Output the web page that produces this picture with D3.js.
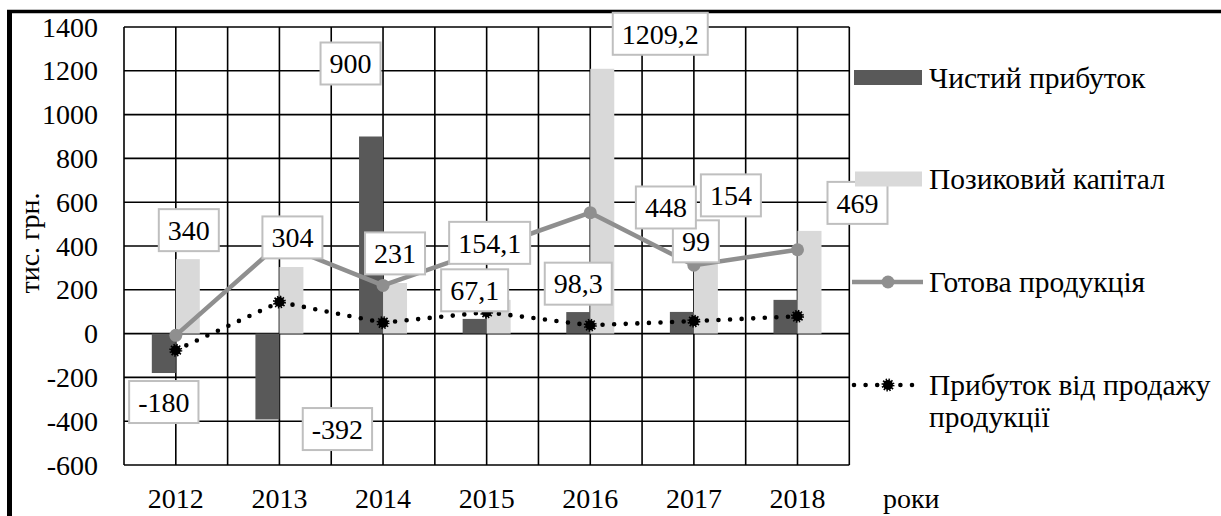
<!DOCTYPE html>
<html>
<head>
<meta charset="utf-8">
<script src="https://cdn.jsdelivr.net/npm/d3@7"></script>
<style>
  html, body { margin: 0; padding: 0; background: #ffffff; }
  svg { display: block; }
</style>
</head>
<body>
<svg id="chart" width="1221" height="516" font-family="Liberation Serif"></svg>
<script>
// ---- data ----
const years = ["2012", "2013", "2014", "2015", "2016", "2017", "2018"];
const netProfit = [-180, -392, 900, 67.1, 98.3, 99, 154];            // Чистий прибуток
const loanCapital = [340, 304, 231, 154.1, 1209.2, 448, 469];        // Позиковий капітал
const finishedGoods = [-8, 410, 220, 385, 552, 312, 383];            // Готова продукція
const salesProfit = [-76, 144, 50, 98, 38, 57, 79];                  // Прибуток від продажу продукції
const yTicks = [-600, -400, -200, 0, 200, 400, 600, 800, 1000, 1200, 1400];
const seriesNames = ["Чистий прибуток", "Позиковий капітал", "Готова продукція", ["Прибуток від продажу", "продукції"]];
const yTitle = "тис. грн.";
const xTitle = "роки";

// ---- layout (label offsets in px from the bar end) ----
const netLabelOffsets = [[0, 29], [70, 9.6], [-20.5, -73], [0, -28.6], [0, -28.4], [14, -70.6], [-54.6, -104.5]];
const loanLabelOffsets = [[1, -29], [1, -29.6], [0, -29.6], [-9, -57], [58, -35], [-40, -28], [48, -28]];

const svg = d3.select("#chart");
const L = 124, R = 849.3, T = 27, B = 465;
const FONT = 28, LFONT = 29.5;
const darkC = "#595959", lightC = "#d9d9d9", grayC = "#8f8f8f";

const x = d3.scaleBand().domain(years).range([L, R]).paddingInner(0).paddingOuter(0);
const y = d3.scaleLinear().domain([-600, 1400]).range([B, T]);
const bw = 24;
const cx = d => x(d) + x.bandwidth() / 2;

function txt(g, size) {
  return g.append("text").attr("font-family", "Liberation Serif").attr("font-size", size || FONT).attr("fill", "#000");
}

// outer frame
svg.append("line").attr("x1", 7).attr("x2", 1221).attr("y1", 11.5).attr("y2", 11.5)
  .attr("stroke", "#000").attr("stroke-width", 3.5);
svg.append("line").attr("x1", 9.5).attr("x2", 9.5).attr("y1", 10).attr("y2", 516)
  .attr("stroke", "#000").attr("stroke-width", 5);

// grid
const grid = svg.append("g");
yTicks.forEach(t => {
  grid.append("line").attr("x1", L).attr("x2", R).attr("y1", y(t)).attr("y2", y(t))
    .attr("stroke", "#000").attr("stroke-width", 1.6);
});
const vx = [];
years.forEach(yr => { vx.push(x(yr)); vx.push(cx(yr)); });
vx.push(R);
vx.forEach(v => {
  grid.append("line").attr("x1", v).attr("x2", v).attr("y1", T).attr("y2", B)
    .attr("stroke", "#000").attr("stroke-width", 1.6);
});

// y axis labels (from the scale)
const yg = svg.append("g");
yg.selectAll("text").data(yTicks).join(enter => txt(enter))
  .attr("x", 98).attr("y", d => y(d)).attr("dy", "0.34em").attr("text-anchor", "end").text(d => String(d));

// x axis labels
const xg = svg.append("g");
xg.selectAll("text").data(years).join(enter => txt(enter))
  .attr("x", d => cx(d)).attr("y", 508).attr("text-anchor", "middle").text(d => d);

// titles
txt(svg).attr("transform", "translate(38.5,243) rotate(-90)").attr("text-anchor", "middle").text(yTitle);
txt(svg).attr("x", 883).attr("y", 508).text(xTitle);

// bars
svg.append("g").selectAll("rect").data(netProfit).join("rect")
  .attr("x", (d, i) => cx(years[i]) - bw).attr("width", bw)
  .attr("y", d => y(Math.max(0, d))).attr("height", d => Math.abs(y(d) - y(0)))
  .attr("fill", darkC);
svg.append("g").selectAll("rect").data(loanCapital).join("rect")
  .attr("x", (d, i) => cx(years[i])).attr("width", bw)
  .attr("y", d => y(Math.max(0, d))).attr("height", d => Math.abs(y(d) - y(0)))
  .attr("fill", lightC);

// gray line
const line = d3.line().x((d, i) => cx(years[i])).y(d => y(d));
svg.append("path").datum(finishedGoods).attr("d", line)
  .attr("fill", "none").attr("stroke", grayC).attr("stroke-width", 4.5).attr("stroke-linejoin", "round");
svg.append("g").selectAll("circle").data(finishedGoods).join("circle")
  .attr("cx", (d, i) => cx(years[i])).attr("cy", d => y(d)).attr("r", 6.5).attr("fill", grayC);

// dotted line
function spikyMarker(g, px, py) {
  g.append("circle").attr("cx", px).attr("cy", py).attr("r", 5)
    .attr("fill", "#000").attr("stroke", "#000").attr("stroke-width", 3)
    .attr("stroke-dasharray", "1.3 1.3");
}
svg.append("path").datum(salesProfit).attr("d", line)
  .attr("fill", "none").attr("stroke", "#000").attr("stroke-width", 4.6)
  .attr("stroke-linecap", "round").attr("stroke-dasharray", "0 11.6");
const mg = svg.append("g");
salesProfit.forEach((d, i) => spikyMarker(mg, cx(years[i]), y(d)));

// data labels
const fmt = v => String(v).replace(".", ",");
function drawLabels(values, offsets, side) {
  const g = svg.append("g");
  values.forEach((v, i) => {
    const bx = cx(years[i]) + side * bw / 2 + offsets[i][0];
    const by = y(v) + offsets[i][1];
    const lg = g.append("g");
    const t = txt(lg).attr("x", bx).attr("y", by).attr("dy", "0.35em")
      .attr("text-anchor", "middle").text(fmt(v));
    let w = t.node().getComputedTextLength();
    if (!(w > 0)) w = fmt(v).length * 13;
    w += 18;
    lg.insert("rect", "text").attr("x", bx - w / 2).attr("y", by - 21).attr("width", w).attr("height", 42)
      .attr("fill", "#fff").attr("stroke", "#bfbfbf").attr("stroke-width", 2);
  });
}
drawLabels(netProfit, netLabelOffsets, -1);
drawLabels(loanCapital, loanLabelOffsets, 1);

// legend
const lg = svg.append("g");
const lx = 852, ltx = 929;
const ly = [77.5, 179, 282, 385];
lg.append("rect").attr("x", 854).attr("y", ly[0] - 7.5).attr("width", 68).attr("height", 15).attr("fill", darkC);
lg.append("rect").attr("x", 855).attr("y", ly[1] - 7.5).attr("width", 67).attr("height", 15).attr("fill", lightC);
lg.append("line").attr("x1", lx).attr("x2", 923).attr("y1", ly[2]).attr("y2", ly[2])
  .attr("stroke", grayC).attr("stroke-width", 4.5);
lg.append("circle").attr("cx", 888).attr("cy", ly[2]).attr("r", 6.5).attr("fill", grayC);
lg.append("line").attr("x1", lx + 2).attr("x2", 920).attr("y1", ly[3]).attr("y2", ly[3])
  .attr("stroke", "#000").attr("stroke-width", 4.6).attr("stroke-linecap", "round").attr("stroke-dasharray", "0 11.6");
spikyMarker(lg, 888, ly[3]);
seriesNames.forEach((n, i) => {
  const t = txt(lg, LFONT).attr("x", ltx).attr("y", ly[i] + 10);
  if (Array.isArray(n)) {
    n.forEach((s, j) => t.append("tspan").attr("x", ltx).attr("dy", j === 0 ? 0 : 32).text(s));
  } else t.text(n);
});
</script>
</body>
</html>
